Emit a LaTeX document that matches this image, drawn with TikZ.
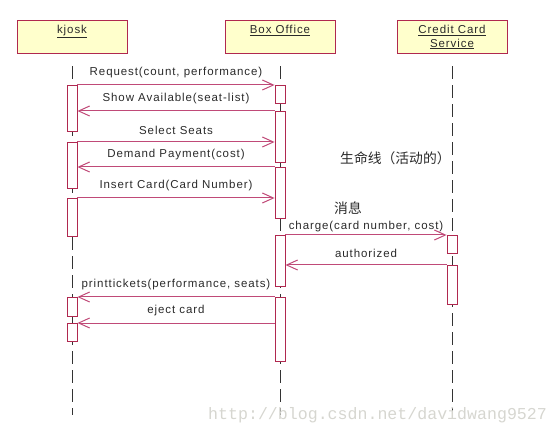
\documentclass[tikz,border=0pt]{standalone}
\usepackage{fontspec}
\newfontfamily\umlfont{Liberation Sans}[LetterSpace=8]
\newfontfamily\cjk{Noto Sans CJK SC}
\newfontfamily\wmfont{Liberation Mono}
\usetikzlibrary{arrows.meta,positioning}
\definecolor{umlred}{HTML}{B0284F}
\definecolor{msgred}{HTML}{C04A78}
\definecolor{umlyellow}{HTML}{FFFFCC}
\definecolor{textgray}{HTML}{2A2A2A}
\definecolor{wmgray}{HTML}{D6D6D0}

\begin{document}
\begin{tikzpicture}[x=1pt, y=-1pt,
  head/.style={rectangle, draw=umlred, fill=umlyellow, line width=0.9pt,
    minimum width=110pt, minimum height=33pt, inner sep=0pt},
  headtxt/.style={font=\umlfont\fontsize{11.5}{13.5}\selectfont, text=textgray,
    align=center, inner sep=0pt, anchor=north},
  life/.style={draw=black!80, line width=0.9pt, dash pattern=on 13pt off 6pt},
  act/.style={rectangle, draw=umlred, fill=white, line width=0.9pt,
    minimum width=10pt, inner sep=0pt, anchor=north},
  msg/.style={-{Straight Barb[length=11pt,width=10pt]}, draw=msgred, line width=1pt},
  lbl/.style={font=\umlfont\fontsize{11.5}{13.5}\selectfont, text=textgray,
    inner sep=0pt, above=6.5pt},
  note/.style={font=\cjk\fontsize{13.8}{15}\selectfont, text=textgray,
    inner sep=0pt, anchor=west},
  wm/.style={font=\wmfont\fontsize{16.6}{18}\selectfont, text=wmgray,
    inner sep=0pt, anchor=base west}
]
\useasboundingbox (0,0) rectangle (559,435);

%─── OBJECTS ─────────────────────────────────────────────────────────────────
\node[head] (KH) at (72,36.5)  {};
\node[headtxt, below=5.5pt of KH.north] (KT) {\underline{kjosk}};

\node[head] (BH) at (280,36.5) {};
\node[headtxt, below=5.5pt of BH.north] (BT) {\underline{Box Office}};

\node[head] (CH) at (452,36.5) {};
\node[headtxt, below=5.5pt of CH.north] (CT) {\underline{Credit Card}\\\underline{Service}};

%─── LIFELINES ───────────────────────────────────────────────────────────────
\coordinate (KE) at (72,415);
\coordinate (BE) at (280,415);
\coordinate (CE) at (452,415);
\draw[life] ([yshift=-13pt]KH.south) -- (KE);
\draw[life] ([yshift=-13pt]BH.south) -- (BE);
\draw[life] ([yshift=-13pt]CH.south) -- (CE);

%─── ACTIVATIONS ─────────────────────────────────────────────────────────────
\node[act, minimum height=46pt] (K1) at (72,85)  {};
\node[act, minimum height=46pt] (K2) at (72,142) {};
\node[act, minimum height=38pt] (K3) at (72,198) {};
\node[act, minimum height=19pt] (K4) at (72,297) {};
\node[act, minimum height=18pt] (K5) at (72,323) {};

\node[act, minimum height=18pt] (B1) at (280,85)  {};
\node[act, minimum height=51pt] (B2) at (280,111) {};
\node[act, minimum height=51pt] (B3) at (280,167) {};
\node[act, minimum height=51pt] (B4) at (280,235) {};
\node[act, minimum height=64pt] (B5) at (280,297) {};

\node[act, minimum height=18pt] (C1) at (452,235) {};
\node[act, minimum height=39pt] (C2) at (452,265) {};

%─── MESSAGES ────────────────────────────────────────────────────────────────
\draw[msg] (K1.north east) -- node[lbl]{Request(count, performance)} (B1.north west);
\draw[msg] (B2.north west) -- node[lbl]{Show Available(seat-list)} (B2.north west -| K1.east);
\draw[msg] (K2.north east) -- node[lbl]{Select Seats} (K2.north east -| B2.west);
\draw[msg] (B3.north west) -- node[lbl]{Demand Payment(cost)} (B3.north west -| K2.east);
\draw[msg] (K3.north east) -- node[lbl]{Insert Card(Card Number)} (K3.north east -| B3.west);
\draw[msg] (B4.north east) -- node[lbl, above=3pt]{charge(card number, cost)} (C1.north west);
\draw[msg] (C2.north west) -- node[lbl]{authorized} (C2.north west -| B4.east);
\draw[msg] (B5.north west) -- node[lbl]{printtickets(performance, seats)} (K4.north east);
\draw[msg] (K5.north east -| B5.west) -- node[lbl]{eject card} (K5.north east);

%─── NOTES ───────────────────────────────────────────────────────────────────
\node[note] (LN) at (340,158) {生命线（活动的）};
\node[note] (MN) at (334,208) {消息};
\node[wm] (WM) at (208,419) {http://blog.csdn.net/davidwang9527};

\end{tikzpicture}
\end{document}
